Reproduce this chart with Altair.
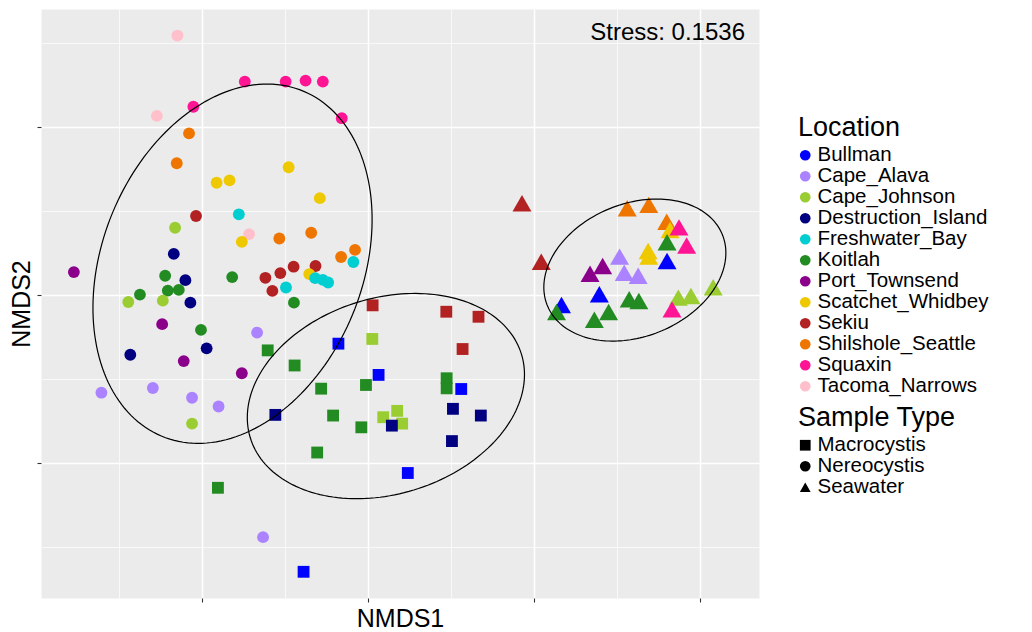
import altair as alt
import numpy as np
import pandas as pd

# ---- categories and colours -------------------------------------------------
LOCATIONS = ["Bullman", "Cape_Alava", "Cape_Johnson", "Destruction_Island",
             "Freshwater_Bay", "Koitlah", "Port_Townsend", "Scatchet_Whidbey",
             "Sekiu", "Shilshole_Seattle", "Squaxin", "Tacoma_Narrows"]
LOCATION_COLORS = ["#0000FF", "#AB82FF", "#9ACD32", "#000080",
                   "#00CED1", "#228B22", "#8B008B", "#EEC900",
                   "#B22222", "#EE7600", "#FF1493", "#FFC0CB"]
SAMPLE_TYPES = ["Macrocystis", "Nereocystis", "Seawater"]
SAMPLE_SHAPES = ["square", "circle", "triangle-up"]

# ---- NMDS scores: Nereocystis ------------------------------------------------
nereo_site = ["Tacoma_Narrows", "Squaxin", "Squaxin", "Squaxin", "Squaxin", "Squaxin",
              "Tacoma_Narrows", "Squaxin", "Shilshole_Seattle", "Shilshole_Seattle",
              "Scatchet_Whidbey", "Scatchet_Whidbey", "Scatchet_Whidbey", "Scatchet_Whidbey",
              "Sekiu", "Freshwater_Bay", "Cape_Johnson", "Tacoma_Narrows", "Scatchet_Whidbey",
              "Shilshole_Seattle", "Shilshole_Seattle", "Shilshole_Seattle", "Shilshole_Seattle",
              "Freshwater_Bay", "Destruction_Island", "Port_Townsend", "Koitlah",
              "Destruction_Island", "Koitlah", "Sekiu", "Sekiu", "Sekiu", "Sekiu",
              "Scatchet_Whidbey", "Freshwater_Bay", "Freshwater_Bay", "Freshwater_Bay",
              "Freshwater_Bay", "Sekiu", "Koitlah", "Koitlah", "Koitlah", "Koitlah",
              "Cape_Johnson", "Cape_Johnson", "Destruction_Island", "Port_Townsend",
              "Koitlah", "Cape_Alava", "Destruction_Island", "Destruction_Island",
              "Port_Townsend", "Port_Townsend", "Cape_Alava", "Cape_Alava", "Cape_Alava",
              "Cape_Alava", "Cape_Johnson", "Cape_Alava"]
nereo_x = [-0.574, -0.371, -0.248, -0.188, -0.136, -0.526, -0.636, -0.079, -0.539, -0.576,
           -0.239, -0.456, -0.417, -0.145, -0.518, -0.389, -0.581, -0.358, -0.380, -0.267,
           -0.171, -0.039, -0.081, -0.044, -0.585, -0.886, -0.611, -0.550, -0.409, -0.309,
           -0.264, -0.224, -0.158, -0.177, -0.159, -0.136, -0.120, -0.247, -0.288, -0.603,
           -0.570, -0.687, -0.223, -0.722, -0.618, -0.535, -0.620, -0.503, -0.334, -0.716,
           -0.486, -0.555, -0.380, -0.803, -0.648, -0.530, -0.450, -0.530, -0.316]
nereo_y = [0.772, 0.635, 0.635, 0.638, 0.635, 0.560, 0.533, 0.526, 0.481, 0.392,
           0.380, 0.334, 0.341, 0.288, 0.235, 0.240, 0.200, 0.181, 0.158, 0.168,
           0.185, 0.134, 0.113, 0.098, 0.122, 0.068, 0.057, 0.044, 0.053, 0.051,
           0.065, 0.084, 0.086, 0.062, 0.050, 0.045, 0.037, 0.022, 0.012, 0.013,
           0.015, 0.001, -0.023, -0.021, -0.017, -0.023, -0.087, -0.104, -0.112, -0.178,
           -0.159, -0.197, -0.233, -0.291, -0.277, -0.306, -0.332, -0.383, -0.721]

# ---- NMDS scores: Macrocystis ------------------------------------------------
macro_site = ["Koitlah", "Koitlah", "Koitlah", "Koitlah", "Koitlah", "Koitlah", "Koitlah",
              "Koitlah", "Destruction_Island", "Bullman", "Bullman", "Sekiu", "Sekiu",
              "Sekiu", "Sekiu", "Cape_Johnson", "Bullman", "Koitlah", "Koitlah", "Bullman",
              "Destruction_Island", "Destruction_Island", "Destruction_Island",
              "Cape_Johnson", "Cape_Johnson", "Cape_Johnson", "Destruction_Island", "Bullman"]
macro_x = [-0.452, -0.302, -0.221, -0.141, -0.105, -0.020, -0.153, -0.006, -0.279, -0.089,
           -0.194, 0.014, 0.236, 0.333, 0.285, 0.013, 0.032, 0.237, 0.237, 0.281,
           0.256, 0.340, 0.253, 0.088, 0.046, 0.103, 0.072, 0.120]
macro_y = [-0.574, -0.165, -0.210, -0.279, -0.359, -0.394, -0.469, -0.268, -0.357, -0.145,
           -0.824, -0.031, -0.050, -0.065, -0.161, -0.131, -0.238, -0.248, -0.278, -0.280,
           -0.339, -0.359, -0.435, -0.345, -0.364, -0.383, -0.389, -0.530]

# ---- NMDS scores: Seawater ---------------------------------------------------
sea_site = ["Sekiu", "Sekiu", "Shilshole_Seattle", "Shilshole_Seattle", "Shilshole_Seattle",
            "Scatchet_Whidbey", "Squaxin", "Koitlah", "Squaxin", "Scatchet_Whidbey",
            "Scatchet_Whidbey", "Bullman", "Cape_Alava", "Port_Townsend", "Port_Townsend",
            "Cape_Alava", "Cape_Alava", "Bullman", "Bullman", "Koitlah", "Koitlah", "Koitlah",
            "Koitlah", "Koitlah", "Cape_Johnson", "Cape_Johnson", "Cape_Johnson", "Squaxin"]
sea_x = [0.464, 0.522, 0.781, 0.846, 0.900, 0.910, 0.937, 0.901, 0.960, 0.844,
         0.846, 0.901, 0.758, 0.707, 0.669, 0.772, 0.814, 0.697, 0.583, 0.568,
         0.682, 0.725, 0.787, 0.816, 0.935, 0.973, 1.040, 0.916]
sea_y = [0.273, 0.099, 0.258, 0.268, 0.218, 0.193, 0.201, 0.157, 0.147, 0.131,
         0.114, 0.101, 0.114, 0.086, 0.063, 0.066, 0.057, 0.002, -0.030, -0.051,
         -0.074, -0.051, -0.013, -0.018, -0.008, -0.003, 0.023, -0.043]

# ---- 95% ellipses per sample type: centre, semi-axes, rotation (deg) ---------
ell_type = ["Nereocystis", "Macrocystis", "Seawater"]
ell_cx = [-0.408, 0.054, 0.804]
ell_cy = [0.093, -0.301, 0.074]
ell_a = [0.556, 0.427, 0.284]
ell_b = [0.392, 0.292, 0.198]
ell_angle = [67.3, 16.7, 21.3]

STRESS_LABEL = "Stress: 0.1536"

# ---- tables -------------------------------------------------------------------
points = pd.concat([
    pd.DataFrame({"Location": nereo_site, "NMDS1": nereo_x, "NMDS2": nereo_y,
                  "Sample Type": "Nereocystis"}),
    pd.DataFrame({"Location": macro_site, "NMDS1": macro_x, "NMDS2": macro_y,
                  "Sample Type": "Macrocystis"}),
    pd.DataFrame({"Location": sea_site, "NMDS1": sea_x, "NMDS2": sea_y,
                  "Sample Type": "Seawater"}),
], ignore_index=True)

t = np.linspace(0, 2 * np.pi, 181)
rows = []
for name, cx, cy, a, b, ang in zip(ell_type, ell_cx, ell_cy, ell_a, ell_b, ell_angle):
    th = np.deg2rad(ang)
    ex = cx + a * np.cos(th) * np.cos(t) - b * np.sin(th) * np.sin(t)
    ey = cy + a * np.sin(th) * np.cos(t) + b * np.cos(th) * np.sin(t)
    for i, (px, py) in enumerate(zip(ex, ey)):
        rows.append({"group": name, "i": i, "NMDS1": px, "NMDS2": py})
ellipses = pd.DataFrame(rows)

# ---- scales and axes ----------------------------------------------------------
W, H = 718, 589
FONT = "Liberation Sans"
x_grid = [-0.75, -0.5, -0.25, 0.0, 0.25, 0.5, 0.75, 1.0]
y_grid = [-0.75, -0.5, -0.25, 0.0, 0.25, 0.5, 0.75]
x_scale = alt.Scale(domain=[-0.985, 1.178], nice=False, zero=False)
y_scale = alt.Scale(domain=[-0.902, 0.851], nice=False, zero=False)

is_major = "abs(datum.value * 2 - round(datum.value * 2)) < 1e-6"


def grid_axis(title, values, pad):
    return alt.Axis(
        title=title, values=values, labels=False, domain=False,
        grid=True, gridColor="white",
        gridWidth={"condition": {"test": is_major, "value": 1.5}, "value": 0.7},
        ticks=True, tickColor="#333333", tickSize=4, tickWidth=1.1,
        tickOpacity={"condition": {"test": is_major, "value": 1}, "value": 0},
        titleFont=FONT, titleFontSize=25, titleFontWeight="normal",
        titleColor="black", titlePadding=pad,
    )


def legend_style(title, y, **extra):
    return alt.Legend(
        title=title, orient="none", legendX=757, legendY=y,
        symbolSize=115, symbolStrokeWidth=0, symbolOffset=-3,
        rowPadding=-3.5,
        labelFont=FONT, labelFontSize=20.5, labelColor="black", labelOffset=2,
        labelLimit=300,
        titleFont=FONT, titleFontSize=27, titleFontWeight="normal",
        titleColor="black", titlePadding=3, **extra,
    )


x_enc = alt.X("NMDS1:Q", scale=x_scale, axis=grid_axis("NMDS1", x_grid, 4))
y_enc = alt.Y("NMDS2:Q", scale=y_scale, axis=grid_axis("NMDS2", y_grid, 2))

dots = alt.Chart(points).mark_point(filled=True, opacity=1, strokeWidth=0).encode(
    x=x_enc,
    y=y_enc,
    color=alt.Color(
        "Location:N",
        scale=alt.Scale(domain=LOCATIONS, range=LOCATION_COLORS),
        legend=legend_style("Location", 106, symbolType="circle"),
    ),
    shape=alt.Shape(
        "Sample Type:N",
        scale=alt.Scale(domain=SAMPLE_TYPES, range=SAMPLE_SHAPES),
        legend=legend_style("Sample Type", 396,
                            symbolFillColor="black", symbolStrokeColor="black"),
    ),
    # triangles need a larger area to look as big as the squares and circles
    size=alt.condition("datum['Sample Type'] === 'Seawater'",
                       alt.value(360), alt.value(140)),
)

rings = alt.Chart(ellipses).mark_line(color="black", strokeWidth=1.2).encode(
    x=alt.X("NMDS1:Q", scale=x_scale),
    y=alt.Y("NMDS2:Q", scale=y_scale),
    detail="group:N",
    order="i:Q",
)

stress = alt.Chart(pd.DataFrame({"label": [STRESS_LABEL]})).mark_text(
    align="right", baseline="middle", font=FONT, fontSize=24, color="black"
).encode(
    x=alt.value(W - 14),
    y=alt.value(24),
    text="label:N",
)

chart = alt.layer(dots, rings, stress).properties(
    width=W, height=H,
    padding={"left": 41, "top": 9, "right": 273, "bottom": 34},
    autosize=alt.AutoSizeParams(type="none"),
).configure(
    background="white",
    view=alt.ViewConfig(fill="#EBEBEB", stroke="transparent"),
)

chart.save("out.html", embed_options={"renderer": "svg", "actions": False})
